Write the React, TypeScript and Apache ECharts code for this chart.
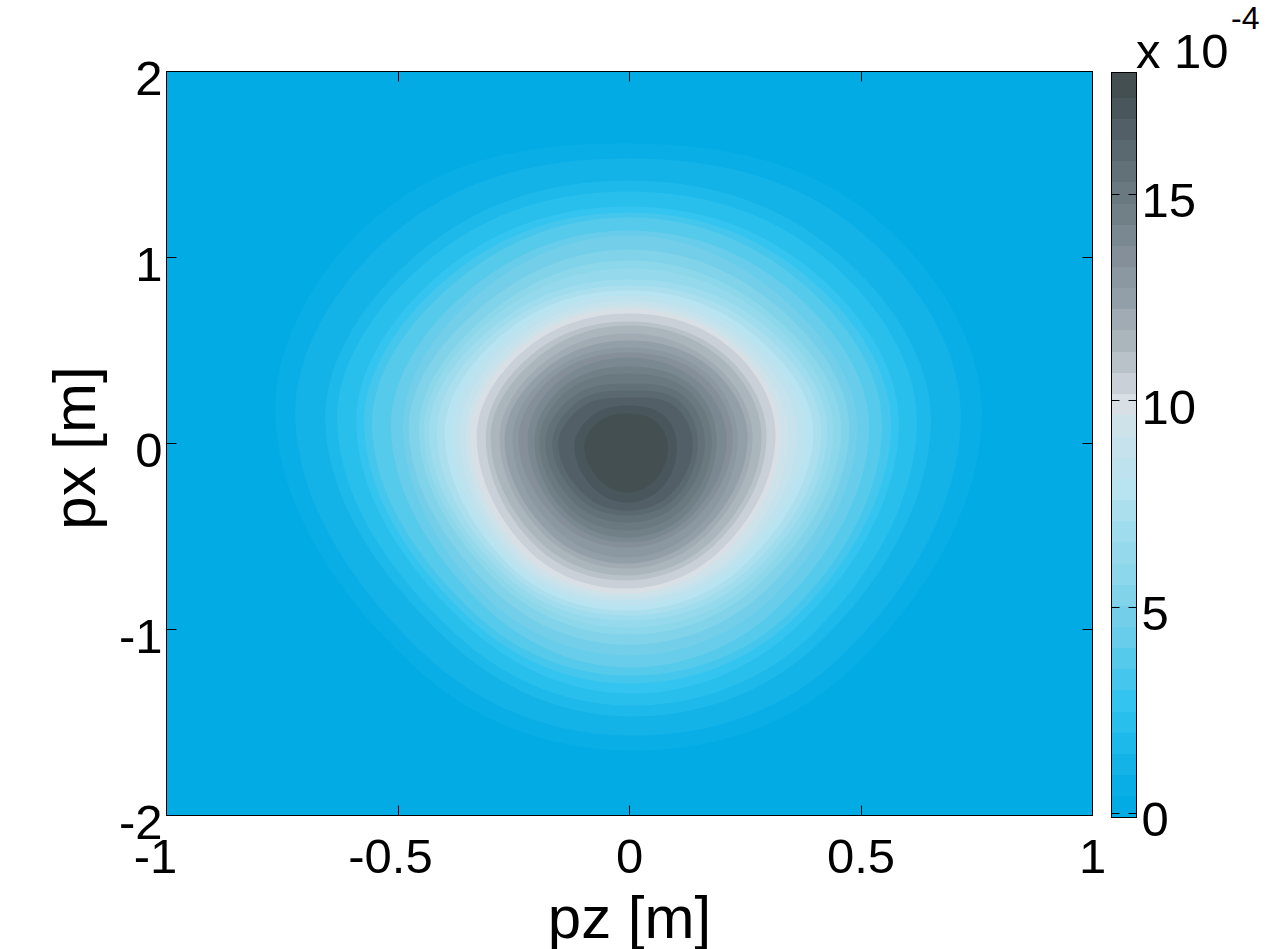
import React, { useEffect, useRef } from "react";
import * as echarts from "echarts";

const FONT = "Liberation Sans";

// Tick labels
const pzTicks = [-1, -0.5, 0, 0.5, 1];
const pxTicks = [-2, -1, 0, 1, 2];
const colorbarTicks = [0, 5, 10, 15];

// Colorbar band edges, in units of 1e-4
const bandEdges = [
  -0.1, 0.41, 0.93, 1.44, 1.95, 2.46, 2.98, 3.49, 4.0, 4.52, 5.03, 5.54, 6.05, 6.57, 7.08, 7.59, 8.11, 8.62,
  9.13, 9.65, 10.16, 10.67, 11.18, 11.7, 12.21, 12.72, 13.24, 13.75, 14.26, 14.77, 15.29, 15.8, 16.31, 16.83,
  17.34, 17.95,
];

const bandColors = [
  "#02ABE4", "#0AAEE6", "#13B3E8", "#1DB9EA", "#28BFED", "#33C4EF", "#45C7ED", "#56CAEB", "#67CDEA", "#73CFE9",
  "#80D3E9", "#8DD7EA", "#95DAEC", "#9FDCED", "#ABDFEE", "#B8E3F0", "#BFE3EE", "#C6E2EC", "#CEE2EA", "#D8DFE5",
  "#CAD0D7", "#B9C2C9", "#AAB5BC", "#A0ABB3", "#939FA8", "#8B98A1", "#848F99", "#7A8891", "#717F87", "#6A7880",
  "#627077", "#5A686F", "#525F66", "#49575C", "#434F50",
];

// Contour radii read along eight rays from the peak; one entry per contour level, outermost first.
// Unit: 1/186 of a px-axis unit (the same length as 1/463 of a pz-axis unit).
const raysN = [307,292,270,259,244,238,233,220,215,201,190,182,171,165,160,155,150,146,142,137,129,125,117,110,103,98,93,84,77,67,60,53,45,37];
const raysNE = [338,318,287,275,257,249,241,228,217,207,197,191,184,177,170,164,158,153,149,145,136,131,122,117,110,105,98,91,85,78,71,64,50,40];
const raysE = [355,334,304,290,272,264,255,242,230,222,214,206,200,194,186,178,170,161,153,148,139,134,125,120,110,105,99,89,84,77,70,65,49,40];
const raysSE = [312,296,271,260,244,236,229,217,206,196,187,181,175,169,163,157,152,148,141,136,128,123,115,110,104,96,91,86,80,73,67,61,50,40];
const raysS = [300,285,266,255,243,233,225,217,205,194,184,177,170,165,160,155,150,147,143,138,130,125,118,113,107,97,92,87,80,72,65,60,52,42];
const raysSW = [304,288,262,252,238,231,224,212,204,194,185,180,175,170,165,160,156,152,147,141,133,127,119,114,107,99,93,88,82,75,68,62,51,41];
const raysW = [354,334,304,292,273,265,257,238,226,220,210,205,200,192,184,176,169,163,158,152,143,138,129,124,116,110,101,94,89,83,76,70,54,44];
const raysNW = [342,318,287,275,257,249,241,226,217,205,195,189,182,176,170,164,158,153,149,144,136,130,122,116,110,105,98,91,85,77,70,63,50,41];

const rayTable = [raysN, raysNE, raysE, raysSE, raysS, raysSW, raysW, raysNW];
const rayAnglesDeg = [90, 45, 5, -45, -90, -135, 175, 135];
const peakPz = -0.003;
const peakPx = -0.038;
const UNITS_PER_PX_AXIS = 186;
const UNITS_PER_PZ_AXIS = 463;

const AXIS_COLOR = "#000000";

function frameAxis(extra: any) {
  return {
    type: "value",
    z: 10,
    axisLine: { show: true, onZero: false, lineStyle: { color: AXIS_COLOR, width: 1 } },
    axisTick: { show: true, inside: true, length: 10, lineStyle: { color: AXIS_COLOR, width: 1 } },
    axisLabel: { show: false },
    splitLine: { show: false },
    ...extra,
  };
}

const tickStyle = { fontFamily: FONT, fontSize: 49, color: "#000" };
const loweredLabel = { verticalAlign: "top", lineHeight: 12 };

export default function App() {
  const ref = useRef<HTMLDivElement | null>(null);

  useEffect(() => {
    document.body.style.margin = "0";
    const chart = echarts.init(ref.current as HTMLDivElement, undefined, { renderer: "svg" });

    const renderRing = (params: any, api: any) => {
      const i = api.value(0) as number;
      const points = rayTable.map((ray, k) => {
        const a = (rayAnglesDeg[k] * Math.PI) / 180;
        const r = ray[i];
        return api.coord([
          peakPz + (r * Math.cos(a)) / UNITS_PER_PZ_AXIS,
          peakPx + (r * Math.sin(a)) / UNITS_PER_PX_AXIS,
        ]);
      });
      return {
        type: "polygon",
        shape: { points, smooth: 0.375, smoothConstraint: false },
        style: { fill: bandColors[i + 1], stroke: "none" },
      };
    };

    const renderBand = (params: any, api: any) => {
      const i = api.value(0) as number;
      const a = api.coord([0, bandEdges[i]]);
      const b = api.coord([1, bandEdges[i + 1]]);
      const top = Math.round(b[1]);
      const bottom = Math.round(a[1]);
      return {
        type: "rect",
        shape: { x: a[0], y: top, width: b[0] - a[0], height: bottom - top },
        style: { fill: bandColors[i], stroke: "none" },
      };
    };

    chart.setOption({
      animation: false,
      backgroundColor: "#ffffff",
      grid: [
        { left: 166.5, top: 71.5, width: 926, height: 744, show: true, backgroundColor: bandColors[0], borderWidth: 0, outerBoundsMode: "none", containLabel: false },
        { left: 1111.5, top: 72.5, width: 25, height: 745, show: false, outerBoundsMode: "none", containLabel: false },
      ],
      xAxis: [
        frameAxis({
          gridIndex: 0,
          position: "bottom",
          min: -1,
          max: 1,
          interval: 0.5,
          name: "pz [m]",
          nameLocation: "middle",
          nameGap: 72,
          nameTextStyle: { fontFamily: FONT, fontSize: 60, color: "#000" },
          axisLabel: {
            show: true,
            margin: 16,
            formatter: (v: number) => (v === -1 ? `{a|${v}}` : v === -0.5 ? `{b|${v}}` : `{c|${v}}`),
            rich: {
              a: { ...tickStyle, padding: [0, 22, 0, 0] },
              b: { ...tickStyle, padding: [0, 15, 0, 0] },
              c: { ...tickStyle },
            },
          },
        }),
        frameAxis({ gridIndex: 0, position: "top", min: -1, max: 1, interval: 0.5 }),
        frameAxis({ gridIndex: 1, position: "bottom", min: 0, max: 1, axisTick: { show: false } }),
        frameAxis({ gridIndex: 1, position: "top", min: 0, max: 1, axisTick: { show: false } }),
      ],
      yAxis: [
        frameAxis({
          gridIndex: 0,
          position: "left",
          min: -2,
          max: 2,
          interval: 1,
          name: "px [m]",
          nameLocation: "middle",
          nameGap: 62,
          nameTextStyle: { fontFamily: FONT, fontSize: 60, color: "#000", padding: [0, 9, 0, 0] },
          axisLabel: { show: true, margin: 4, ...tickStyle, ...loweredLabel },
        }),
        frameAxis({ gridIndex: 0, position: "right", min: -2, max: 2, interval: 1 }),
        frameAxis({
          gridIndex: 1,
          position: "left",
          min: bandEdges[0],
          max: bandEdges[bandEdges.length - 1],
          axisTick: { show: true, inside: true, length: 8, customValues: colorbarTicks, lineStyle: { color: AXIS_COLOR, width: 1 } },
        }),
        frameAxis({
          gridIndex: 1,
          position: "right",
          min: bandEdges[0],
          max: bandEdges[bandEdges.length - 1],
          axisTick: { show: true, inside: true, length: 8, customValues: colorbarTicks, lineStyle: { color: AXIS_COLOR, width: 1 } },
          axisLabel: { show: true, customValues: colorbarTicks, margin: 5, ...tickStyle, ...loweredLabel },
        }),
      ],
      series: [
        {
          type: "custom",
          name: "contours",
          coordinateSystem: "cartesian2d",
          xAxisIndex: 0,
          yAxisIndex: 0,
          clip: true,
          silent: true,
          renderItem: renderRing,
          encode: { x: 1, y: 2 },
          data: raysN.map((_, i) => [i, 0, 0]),
        },
        {
          type: "custom",
          name: "colorbar",
          coordinateSystem: "cartesian2d",
          xAxisIndex: 2,
          yAxisIndex: 2,
          silent: true,
          renderItem: renderBand,
          encode: { x: 1, y: 2 },
          data: bandColors.map((_, i) => [i, 0.5, bandEdges[i]]),
        },
      ],
      graphic: [
        { type: "text", x: 1136, y: 26, style: { text: "x 10", fontFamily: FONT, fontSize: 49, fill: "#000" } },
        { type: "text", x: 1231, y: 2, style: { text: "-4", fontFamily: FONT, fontSize: 32, fill: "#000" } },
      ],
    });

    return () => chart.dispose();
  }, []);

  return <div ref={ref} style={{ position: "fixed", left: 0, top: 0, width: 1278, height: 949 }} />;
}

export { pzTicks, pxTicks };
